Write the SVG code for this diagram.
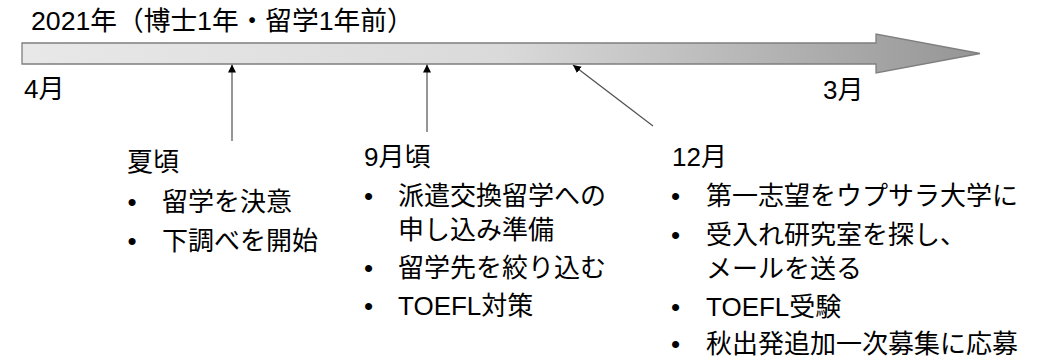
<svg xmlns="http://www.w3.org/2000/svg" width="1043" height="361" viewBox="0 0 1043 361">
  <style>
    text { font-family: "Liberation Sans", "Noto Sans CJK JP", sans-serif; fill: #000; }
    .t { font-size: 26.7px; }
    .b { font-size: 26px; }
    .conn { stroke: #505050; stroke-width: 1.2; fill: none; marker-end: url(#ah); }
  </style>
  <defs>
    <linearGradient id="g" x1="0" y1="0" x2="1" y2="0">
      <stop offset="0" stop-color="#e8e8e8"/>
      <stop offset="0.5" stop-color="#dadada"/>
      <stop offset="0.88" stop-color="#a6a6a6"/>
      <stop offset="1" stop-color="#959595"/>
    </linearGradient>
    <marker id="ah" viewBox="0 0 10 10" refX="10" refY="5" markerWidth="8" markerHeight="8" markerUnits="userSpaceOnUse" orient="auto">
      <path d="M0,0 L10,5 L0,10 z" fill="#000"/>
    </marker>
  </defs>

  <g id="title">
    <text class="t" x="31" y="30">2021年（博士1年・留学1年前）</text>
  </g>

  <g id="timeline">
    <path d="M22,43 H876 V34 L980,53.5 L876,73 V64 H22 Z" fill="url(#g)" stroke="#7f7f7f" stroke-width="1.3"/>
    <text class="b" x="24" y="98">4月</text>
    <text class="b" x="823" y="99">3月</text>
  </g>

  <g id="connectors">
    <line class="conn" x1="232" y1="141" x2="232" y2="64.5"/>
    <line class="conn" x1="427" y1="132" x2="427" y2="64.5"/>
    <line class="conn" x1="653" y1="126" x2="573" y2="65"/>
  </g>

  <g id="summer">
    <text class="b" x="127" y="171">夏頃</text>
    <text class="b" x="127.5" y="211">•</text>
    <text class="b" x="162" y="211">留学を決意</text>
    <text class="b" x="127.5" y="250">•</text>
    <text class="b" x="162" y="250">下調べを開始</text>
  </g>

  <g id="september">
    <text class="b" x="364" y="166">9月頃</text>
    <text class="b" x="364" y="205">•</text>
    <text class="b" x="398" y="205">派遣交換留学への</text>
    <text class="b" x="398" y="239">申し込み準備</text>
    <text class="b" x="364" y="277">•</text>
    <text class="b" x="398" y="277">留学先を絞り込む</text>
    <text class="b" x="364" y="315">•</text>
    <text class="b" x="398" y="315">TOEFL対策</text>
  </g>

  <g id="december">
    <text class="b" x="672" y="166">12月</text>
    <text class="b" x="671" y="205">•</text>
    <text class="b" x="706" y="205">第一志望をウプサラ大学に</text>
    <text class="b" x="671" y="244">•</text>
    <text class="b" x="706" y="244">受入れ研究室を探し、</text>
    <text class="b" x="706" y="278">メールを送る</text>
    <text class="b" x="671" y="316">•</text>
    <text class="b" x="706" y="316">TOEFL受験</text>
    <text class="b" x="671" y="353">•</text>
    <text class="b" x="706" y="353">秋出発追加一次募集に応募</text>
  </g>
</svg>
